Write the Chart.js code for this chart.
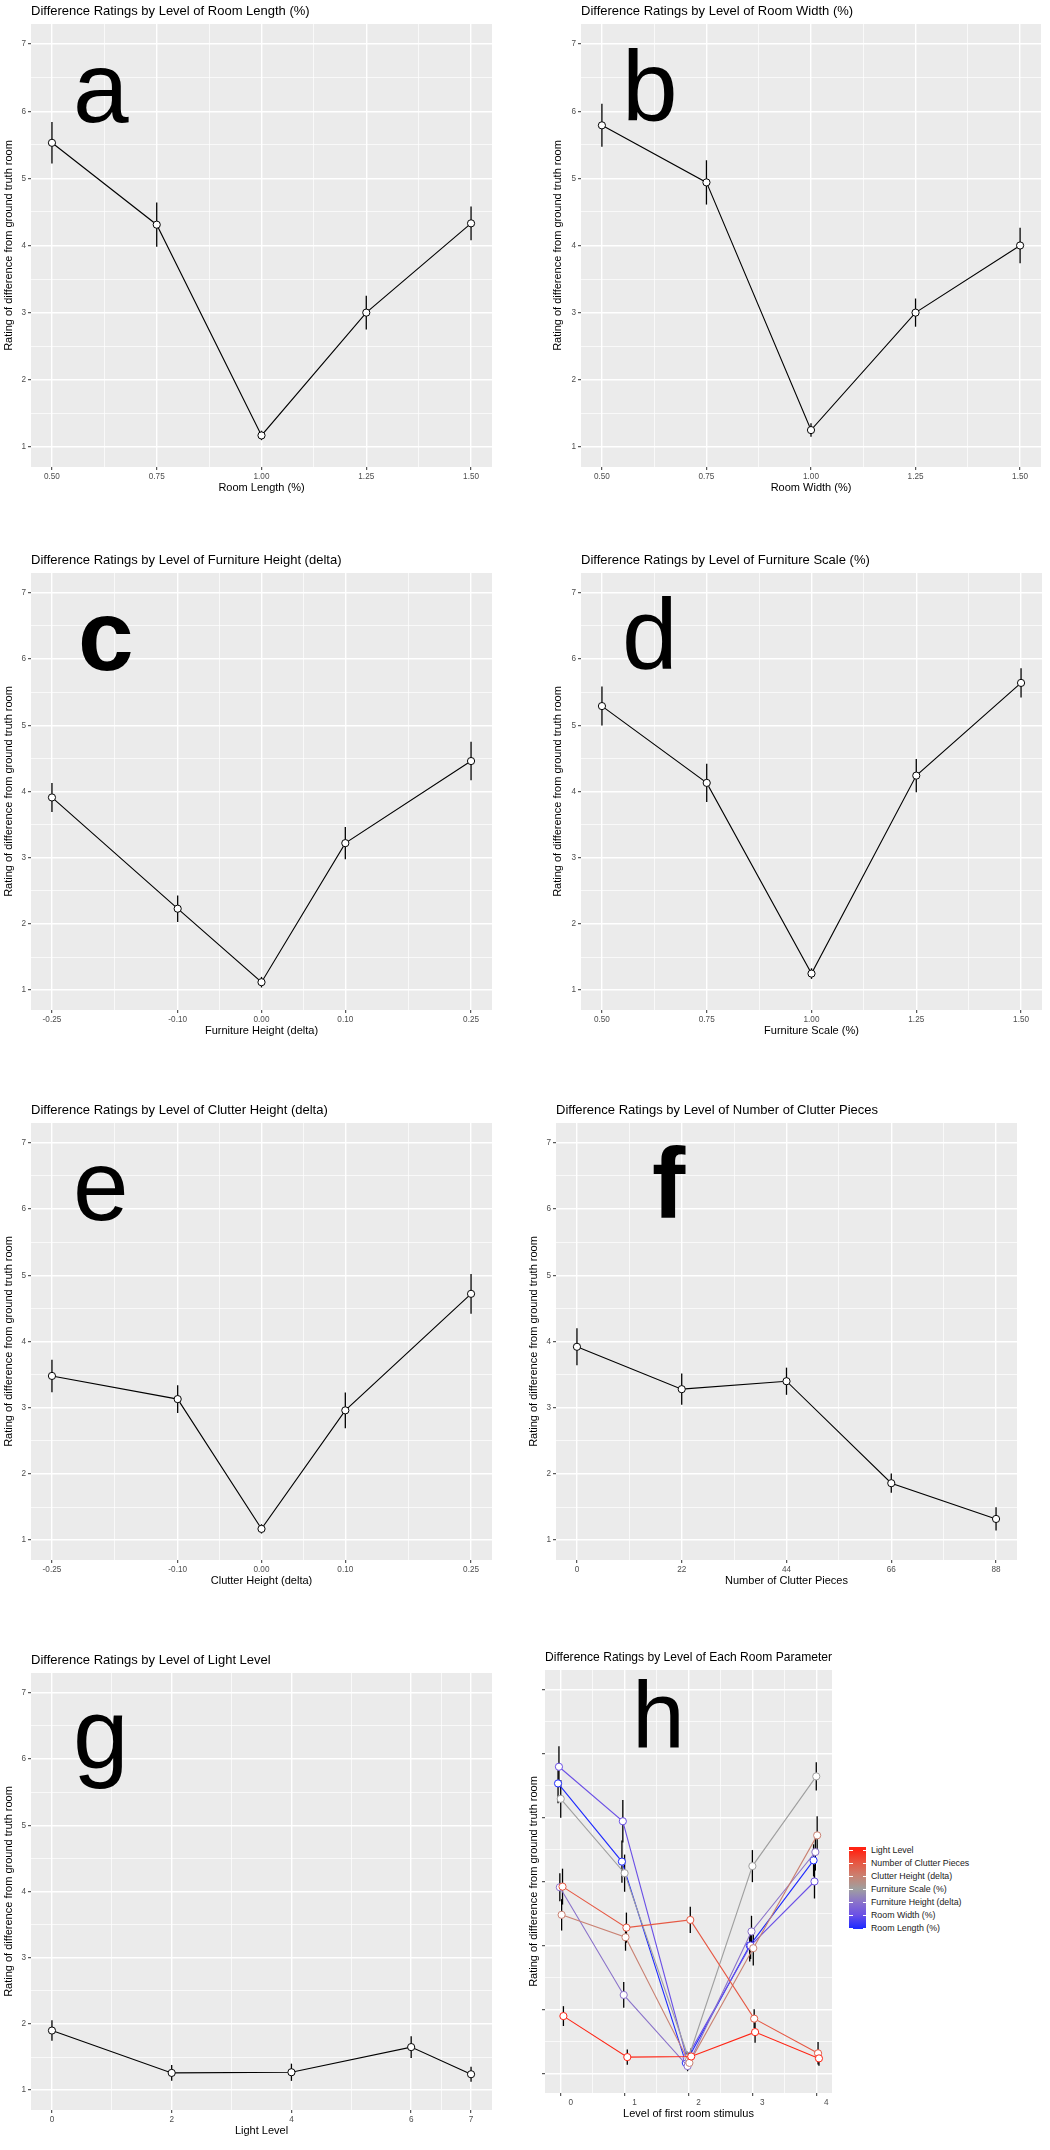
<!DOCTYPE html>
<html>
<head>
<meta charset="utf-8">
<title>Difference Ratings by Level</title>
<script src="https://cdn.jsdelivr.net/npm/chart.js@4.4.1/dist/chart.umd.min.js"></script>
<style>
  body { margin: 0; background: #fff; font-family: 'Liberation Sans', Arial, Helvetica, sans-serif; }
  #page { position: relative; width: 1050px; height: 2150px; overflow: hidden; }
  .panel { position: absolute; }
  .tag { position: absolute; font-size: 100px; line-height: 100px; color: #000; white-space: nowrap; }
  .lg-label { position: absolute; font-size: 8.8px; line-height: 11px; color: #1a1a1a; white-space: nowrap; }
  .lg-tick { position: absolute; height: 1px; background: #fff; }
</style>
</head>
<body>
<div id="page"></div>
<script>
  // y axis (shared by every panel)
  const yMajors = [1, 2, 3, 4, 5, 6, 7];
  const yLabels = ["1", "2", "3", "4", "5", "6", "7"];

  // a - room length
  const roomLengthLevels = [0.5, 0.75, 1.0, 1.25, 1.5];
  const roomLengthTicks = ["0.50", "0.75", "1.00", "1.25", "1.50"];
  const roomLengthMean = [5.53, 4.31, 1.17, 3.0, 4.33];
  const roomLengthErr = [0.31, 0.33, 0.07, 0.25, 0.25];

  // b - room width
  const roomWidthLevels = [0.5, 0.75, 1.0, 1.25, 1.5];
  const roomWidthTicks = ["0.50", "0.75", "1.00", "1.25", "1.50"];
  const roomWidthMean = [5.79, 4.94, 1.25, 3.0, 4.0];
  const roomWidthErr = [0.32, 0.33, 0.1, 0.21, 0.265];

  // c - furniture height
  const furnHeightLevels = [-0.25, -0.1, 0, 0.1, 0.25];
  const furnHeightTicks = ["-0.25", "-0.10", "0.00", "0.10", "0.25"];
  const furnHeightMean = [3.91, 2.23, 1.12, 3.22, 4.46];
  const furnHeightErr = [0.22, 0.2, 0.08, 0.245, 0.29];

  // d - furniture scale
  const furnScaleLevels = [0.5, 0.75, 1.0, 1.25, 1.5];
  const furnScaleTicks = ["0.50", "0.75", "1.00", "1.25", "1.50"];
  const furnScaleMean = [5.29, 4.13, 1.25, 4.24, 5.64];
  const furnScaleErr = [0.295, 0.29, 0.08, 0.25, 0.22];

  // e - clutter height
  const clutterHeightLevels = [-0.25, -0.1, 0, 0.1, 0.25];
  const clutterHeightTicks = ["-0.25", "-0.10", "0.00", "0.10", "0.25"];
  const clutterHeightMean = [3.48, 3.13, 1.17, 2.96, 4.72];
  const clutterHeightErr = [0.245, 0.21, 0.07, 0.27, 0.3];

  // f - number of clutter pieces
  const clutterPiecesLevels = [0, 22, 44, 66, 88];
  const clutterPiecesTicks = ["0", "22", "44", "66", "88"];
  const clutterPiecesMean = [3.92, 3.28, 3.4, 1.86, 1.32];
  const clutterPiecesErr = [0.28, 0.235, 0.205, 0.145, 0.175];

  // g - light level
  const lightLevels = [0, 2, 4, 6, 7];
  const lightTicks = ["0", "2", "4", "6", "7"];
  const lightMean = [1.9, 1.26, 1.27, 1.65, 1.24];
  const lightErr = [0.155, 0.12, 0.13, 0.165, 0.115];

  // h - every parameter by level index
  const stimulusLevels = [0, 1, 2, 3, 4];
  const stimulusTicks = ["0", "1", "2", "3", "4"];
  const hSeries = ["Light Level", "Number of Clutter Pieces", "Clutter Height (delta)",
    "Furniture Scale (%)", "Furniture Height (delta)", "Room Width (%)", "Room Length (%)"];
  const hColors = ["#FF2414", "#E65843", "#C98172", "#9F9F9F", "#8A72CA", "#6B50E6", "#1F2BFF"];

  const FONT = "'Liberation Sans', Arial, Helvetica, sans-serif";
  const TITLE_SIZE = 13;
  const AXIS_TITLE_SIZE = 11;
  const page = document.getElementById("page");

  const panelBg = {
    id: "panelBg",
    beforeDraw(chart) {
      const a = chart.chartArea;
      const c = chart.ctx;
      c.save();
      c.fillStyle = "#EBEBEB";
      c.fillRect(a.left, a.top, a.right - a.left, a.bottom - a.top);
      c.restore();
    },
  };

  // vertical error bars, drawn under the lines and points
  const errorBars = {
    id: "errorBars",
    beforeDatasetsDraw(chart) {
      const c = chart.ctx;
      const xs = chart.scales.x;
      const ys = chart.scales.y;
      c.save();
      c.strokeStyle = "#000";
      c.lineWidth = 1.3;
      chart.data.datasets.forEach((ds) => {
        if (!ds.errors) return;
        ds.data.forEach((p, i) => {
          const px = xs.getPixelForValue(p.x);
          c.beginPath();
          c.moveTo(px, ys.getPixelForValue(p.y - ds.errors[i]));
          c.lineTo(px, ys.getPixelForValue(p.y + ds.errors[i]));
          c.stroke();
        });
      });
      c.restore();
    },
  };

  function midpoints(arr) {
    const m = [];
    for (let i = 1; i < arr.length; i++) m.push((arr[i - 1] + arr[i]) / 2);
    return m;
  }
  function majorIndex(v, majors) {
    return majors.findIndex((a) => Math.abs(a - v) < 1e-9);
  }

  function axis(majors, labels, min, max, extra, labelOffset) {
    const all = majors.concat(midpoints(majors)).sort((p, q) => p - q);
    const cfg = {
      type: "linear",
      min: min,
      max: max,
      afterBuildTicks: (s) => {
        s.ticks = all.map((v) => ({ value: v }));
      },
      border: { display: false },
      grid: {
        color: "#FFFFFF",
        lineWidth: (c) => (majorIndex(c.tick.value, majors) >= 0 ? 1.4 : 0.7),
        drawTicks: true,
        tickLength: 3,
        tickWidth: 1,
        tickColor: (c) => (majorIndex(c.tick.value, majors) >= 0 ? "#333333" : "rgba(0,0,0,0)"),
      },
      ticks: {
        autoSkip: false,
        maxRotation: 0,
        minRotation: 0,
        padding: 2,
        labelOffset: labelOffset || 0,
        color: "#4D4D4D",
        font: { family: FONT, size: 8.2 },
        callback: (v) => {
          const k = majorIndex(v, majors);
          return k < 0 ? "" : labels[k];
        },
      },
    };
    return Object.assign(cfg, extra);
  }

  function expand(levels, pad) {
    const lo = Math.min(...levels) - pad;
    const hi = Math.max(...levels) + pad;
    const d = (hi - lo) * 0.05;
    return [lo - d, hi + d];
  }

  function makePanel(p) {
    const w = p.w;
    const h = p.B - p.top + 29;
    const box = document.createElement("div");
    box.className = "panel";
    box.style.left = p.x0 + "px";
    box.style.top = p.top + "px";
    box.style.width = w + "px";
    box.style.height = h + "px";
    const cv = document.createElement("canvas");
    box.appendChild(cv);
    page.appendChild(box);

    const xr = expand(p.levels, p.dodge || 0);
    const titleH = TITLE_SIZE * 1.2;
    const axisH = AXIS_TITLE_SIZE * 1.2;

    new Chart(cv, {
      type: "line",
      data: { datasets: p.datasets },
      options: {
        responsive: true,
        maintainAspectRatio: false,
        animation: false,
        events: [],
        layout: { padding: { left: 0, top: 0, bottom: 0, right: w - (p.R - p.x0) } },
        plugins: {
          legend: { display: false },
          tooltip: { enabled: false },
          title: {
            display: true,
            text: p.title,
            align: "start",
            fullSize: false,
            color: "#000",
            font: { family: FONT, size: TITLE_SIZE, weight: "normal" },
            padding: { top: 11 - titleH / 2, bottom: p.T - p.top - 11 - titleH / 2 },
          },
        },
        scales: {
          x: axis(p.levels, p.ticks, xr[0], xr[1], {
            title: {
              display: true,
              text: p.xTitle,
              color: "#000",
              font: { family: FONT, size: AXIS_TITLE_SIZE },
              padding: { top: 0, bottom: 29 - 21 - axisH / 2 },
            },
            afterFit: (s) => {
              s.height = 29;
            },
          }, p.labelOffset),
          y: axis(yMajors, p.yLabels || yLabels, 0.7, 7.3, {
            title: {
              display: true,
              text: "Rating of difference from ground truth room",
              color: "#000",
              font: { family: FONT, size: AXIS_TITLE_SIZE },
              padding: { top: 9 - axisH / 2, bottom: 0 },
            },
            afterFit: (s) => {
              s.width = p.L - p.x0;
            },
          }),
        },
      },
      plugins: [panelBg, errorBars],
    });
  }

  function single(levels, mean, err) {
    return [{
      data: levels.map((x, i) => ({ x: x, y: mean[i] })),
      errors: err,
      borderColor: "#000",
      borderWidth: 1.1,
      tension: 0,
      fill: false,
      pointRadius: 3.6,
      pointBorderWidth: 1,
      pointBackgroundColor: "#FFFFFF",
      pointBorderColor: "#000",
    }];
  }

  function tag(letter, left, baseline, size, bold) {
    const d = document.createElement("div");
    d.className = "tag";
    d.textContent = letter;
    d.style.fontSize = size + "px";
    d.style.lineHeight = size + "px";
    d.style.left = left + "px";
    d.style.top = baseline - 0.8465 * size + "px";
    if (bold) d.style.fontWeight = "bold";
    page.appendChild(d);
  }

  makePanel({ x0: 0, top: 0, w: 505, L: 31, R: 492, T: 24, B: 467,
    title: "Difference Ratings by Level of Room Length (%)", xTitle: "Room Length (%)",
    levels: roomLengthLevels, ticks: roomLengthTicks,
    datasets: single(roomLengthLevels, roomLengthMean, roomLengthErr) });

  makePanel({ x0: 549, top: 0, w: 501, L: 581, R: 1041, T: 24, B: 467,
    title: "Difference Ratings by Level of Room Width (%)", xTitle: "Room Width (%)",
    levels: roomWidthLevels, ticks: roomWidthTicks,
    datasets: single(roomWidthLevels, roomWidthMean, roomWidthErr) });

  makePanel({ x0: 0, top: 549, w: 505, L: 31, R: 492, T: 573, B: 1010,
    title: "Difference Ratings by Level of Furniture Height (delta)", xTitle: "Furniture Height (delta)",
    levels: furnHeightLevels, ticks: furnHeightTicks,
    datasets: single(furnHeightLevels, furnHeightMean, furnHeightErr) });

  makePanel({ x0: 549, top: 549, w: 501, L: 581, R: 1042, T: 573, B: 1010,
    title: "Difference Ratings by Level of Furniture Scale (%)", xTitle: "Furniture Scale (%)",
    levels: furnScaleLevels, ticks: furnScaleTicks,
    datasets: single(furnScaleLevels, furnScaleMean, furnScaleErr) });

  makePanel({ x0: 0, top: 1099, w: 505, L: 31, R: 492, T: 1123, B: 1560,
    title: "Difference Ratings by Level of Clutter Height (delta)", xTitle: "Clutter Height (delta)",
    levels: clutterHeightLevels, ticks: clutterHeightTicks,
    datasets: single(clutterHeightLevels, clutterHeightMean, clutterHeightErr) });

  makePanel({ x0: 525, top: 1099, w: 525, L: 556, R: 1017, T: 1123, B: 1560,
    title: "Difference Ratings by Level of Number of Clutter Pieces", xTitle: "Number of Clutter Pieces",
    levels: clutterPiecesLevels, ticks: clutterPiecesTicks,
    datasets: single(clutterPiecesLevels, clutterPiecesMean, clutterPiecesErr) });

  makePanel({ x0: 0, top: 1649, w: 505, L: 31, R: 492, T: 1673, B: 2110,
    title: "Difference Ratings by Level of Light Level", xTitle: "Light Level",
    levels: lightLevels, ticks: lightTicks,
    datasets: single(lightLevels, lightMean, lightErr) });

  // h: all parameters together, dodged a little
  const hMeans = [lightMean, clutterPiecesMean, clutterHeightMean, furnScaleMean,
    furnHeightMean, roomWidthMean, roomLengthMean];
  const hErrs = [lightErr, clutterPiecesErr, clutterHeightErr, furnScaleErr,
    furnHeightErr, roomWidthErr, roomLengthErr];
  const dodgeStep = 0.014;
  const hDatasets = hSeries.map((name, s) => ({
    label: name,
    data: stimulusLevels.map((x, i) => ({ x: x + (3 - s) * dodgeStep, y: hMeans[s][i] })),
    errors: hErrs[s],
    borderColor: hColors[s],
    borderWidth: 1.1,
    tension: 0,
    fill: false,
    pointRadius: 3.6,
    pointBorderWidth: 1,
    pointBackgroundColor: "#FFFFFF",
    pointBorderColor: hColors[s],
  }));

  makePanel({ x0: 525, top: 1646, w: 320, L: 545, R: 832, T: 1670, B: 2093,
    title: "Difference Ratings by Level of Each Room Parameter", xTitle: "Level of first room stimulus",
    levels: stimulusLevels, ticks: stimulusTicks, dodge: 3 * dodgeStep, labelOffset: 10,
    yLabels: ["", "", "", "", "", "", ""],
    datasets: hDatasets });

  // colour bar legend for h
  const lgTop = 1847, lgH = 82, lgLeft = 849, lgW = 17;
  const lgCenters = hSeries.map((_, i) => 1850 + i * 13);
  const bar = document.createElement("div");
  bar.style.position = "absolute";
  bar.style.left = lgLeft + "px";
  bar.style.top = lgTop + "px";
  bar.style.width = lgW + "px";
  bar.style.height = lgH + "px";
  bar.style.background = "linear-gradient(to bottom, " + hColors.map((c, i) =>
    c + " " + (((lgCenters[i] - lgTop) / lgH) * 100).toFixed(1) + "%").join(", ") + ")";
  page.appendChild(bar);
  hSeries.forEach((name, i) => {
    const l = document.createElement("div");
    l.className = "lg-label";
    l.textContent = name;
    l.style.left = "871px";
    l.style.top = lgCenters[i] - 5.5 + "px";
    page.appendChild(l);
    [lgLeft, lgLeft + lgW - 3.5].forEach((x) => {
      const t = document.createElement("div");
      t.className = "lg-tick";
      t.style.left = x + "px";
      t.style.width = "3.5px";
      t.style.top = lgCenters[i] - 0.5 + "px";
      page.appendChild(t);
    });
  });

  // panel letters
  tag("a", 73, 122, 100, false);
  tag("b", 622, 121, 100, false);
  tag("c", 78, 670, 100, true);
  tag("d", 622, 669, 100, false);
  tag("e", 73, 1220, 100, false);
  tag("f", 652, 1218, 100, true);
  tag("g", 73, 1768, 100, false);
  tag("h", 632, 1748, 95, false);
</script>
</body>
</html>
